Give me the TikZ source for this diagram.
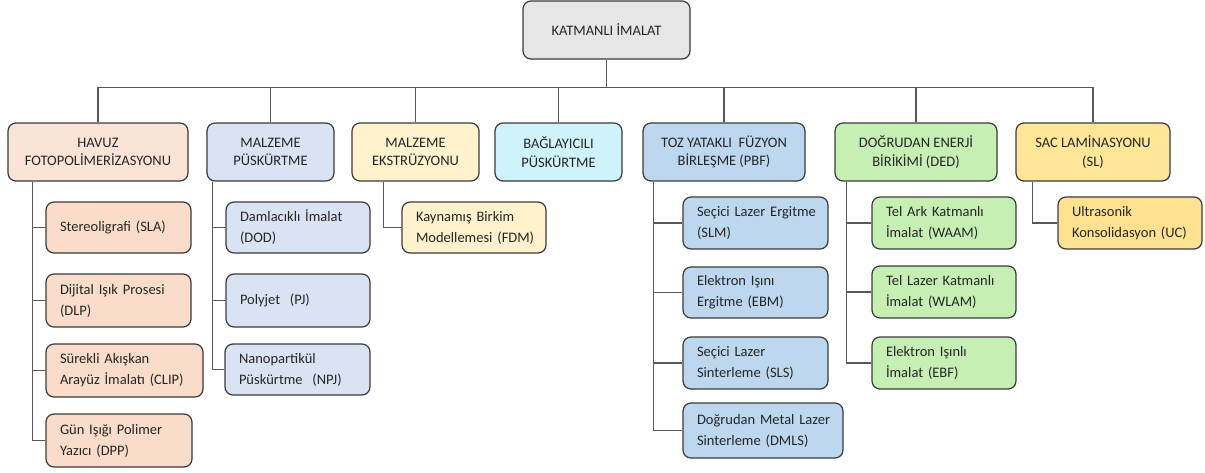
\documentclass[tikz,border=0pt]{standalone}
\usepackage{fontspec}
\setmainfont{Carlito}
\definecolor{boxline}{HTML}{3A3A3A}
\definecolor{connc}{HTML}{595959}
\definecolor{txt}{HTML}{262626}
\definecolor{rootf}{HTML}{E7E6E6}
\definecolor{havf}{HTML}{FBE4D5}
\definecolor{havc}{HTML}{F9DDCA}
\definecolor{mpf}{HTML}{DAE3F3}
\definecolor{eksf}{HTML}{FFF2CC}
\definecolor{bagf}{HTML}{CFF3FB}
\definecolor{tozf}{HTML}{BDD7EE}
\definecolor{dedf}{HTML}{C6EFB3}
\definecolor{sacf}{HTML}{FFE699}
\definecolor{ucf}{HTML}{FFE18F}
\tikzset{
  box/.style={draw=boxline, line width=1.2pt, rounded corners=8pt, text=txt},
  lvl/.style={box, align=center, inner sep=0pt, font=\fontsize{14.5}{18.5}\selectfont},
  kid/.style={box, align=left, inner xsep=0pt, inner ysep=0pt,
    execute at begin node={\leftskip=14pt\hyphenpenalty=10000\relax},
    font=\fontsize{14.5}{21}\selectfont},
  conn/.style={draw=connc, line width=1.2pt}
}
\begin{document}
\begin{tikzpicture}[x=1pt,y=-1pt]
\useasboundingbox (0,0) rectangle (1205,472);
% root
\node[lvl, fill=rootf, minimum width=167pt, minimum height=58pt] (root) at (606.5,30) {KATMANLI İMALAT};
% level 1
\node[lvl, fill=havf, minimum width=180pt, minimum height=58pt] (hav) at (98,152) {HAVUZ\\FOTOPOLİMERİZASYONU};
\node[lvl, fill=mpf, minimum width=127pt, minimum height=58pt] (mp) at (270.5,152) {MALZEME\\PÜSKÜRTME};
\node[lvl, fill=eksf, minimum width=127pt, minimum height=58pt] (eks) at (415.5,152) {MALZEME\\EKSTRÜZYONU};
\node[lvl, fill=bagf, minimum width=127pt, minimum height=58pt] (bag) at (558.5,152) {BAĞLAYICILI\\PÜSKÜRTME};
\node[lvl, fill=tozf, minimum width=162pt, minimum height=58pt] (toz) at (724,152) {TOZ YATAKLI~ FÜZYON\\BİRLEŞME (PBF)};
\node[lvl, fill=dedf, minimum width=162pt, minimum height=58pt] (ded) at (916,152) {DOĞRUDAN ENERJİ\\BİRİKİMİ (DED)};
\node[lvl, fill=sacf, minimum width=154pt, minimum height=58pt] (sac) at (1093,152) {SAC LAMİNASYONU\\(SL)};
% children of HAVUZ
\node[kid, fill=havc, text width=145pt, minimum height=51pt] (sla) at (118.5,227.5) {Stereoligrafi (SLA)};
\node[kid, fill=havc, text width=145pt, minimum height=53pt] (dlp) at (118.5,300.5) {Dijital Işık Prosesi\\(DLP)};
\node[kid, fill=havc, text width=157pt, minimum height=53pt] (clip) at (124.5,370.5) {Sürekli Akışkan\\Arayüz İmalatı (CLIP)};
\node[kid, fill=havc, text width=146pt, minimum height=53pt] (dpp) at (119,440.5) {Gün Işığı Polimer\\Yazıcı (DPP)};
% children of MALZEME PUSKURTME
\node[kid, fill=mpf, text width=144pt, minimum height=51pt] (dod) at (298,227.5) {Damlacıklı İmalat\\(DOD)};
\node[kid, fill=mpf, text width=144pt, minimum height=53pt] (pj) at (298,300.5) {Polyjet\ \ (PJ)};
\node[kid, fill=mpf, text width=145pt, minimum height=51pt] (npj) at (297.5,369.5) {Nanopartikül\\Püskürtme\ \ (NPJ)};
% child of EKSTRUZYON
\node[kid, fill=eksf, text width=144pt, minimum height=51pt] (fdm) at (474,227.5) {Kaynamış Birkim\\Modellemesi (FDM)};
% children of TOZ
\node[kid, fill=tozf, text width=145pt, minimum height=52pt] (slm) at (755.5,223) {Seçici Lazer Ergitme\\(SLM)};
\node[kid, fill=tozf, text width=145pt, minimum height=51pt] (ebm) at (755.5,292.5) {Elektron Işını\\Ergitme (EBM)};
\node[kid, fill=tozf, text width=145pt, minimum height=52pt] (sls) at (755.5,363) {Seçici Lazer\\Sinterleme (SLS)};
\node[kid, fill=tozf, text width=160pt, minimum height=55pt] (dmls) at (763,430.5) {Doğrudan Metal Lazer\\Sinterleme (DMLS)};
% children of DED
\node[kid, fill=dedf, text width=144pt, minimum height=52pt] (waam) at (944,223) {Tel Ark Katmanlı\\İmalat (WAAM)};
\node[kid, fill=dedf, text width=144pt, minimum height=52pt] (wlam) at (944,292) {Tel Lazer Katmanlı\\İmalat (WLAM)};
\node[kid, fill=dedf, text width=144pt, minimum height=52pt] (ebf) at (944,363) {Elektron Işınlı\\İmalat (EBF)};
% child of SAC
\node[kid, fill=ucf, text width=144pt, minimum height=52pt] (uc) at (1130,223) {Ultrasonik\\Konsolidasyon (UC)};
% top connectors
\draw[conn] (root.south) -- ++(0,28) coordinate (bus);
\foreach \n in {hav,mp,eks,bag,toz,ded,sac} \draw[conn] (bus) -| (\n.north);
% spines
\coordinate (hs) at ([xshift=25pt]hav.south west);
\coordinate (ms) at ([xshift=6pt]mp.south west);
\coordinate (es) at ([xshift=32pt]eks.south west);
\coordinate (ts) at ([xshift=11pt]toz.south west);
\coordinate (ds) at ([xshift=12pt]ded.south west);
\coordinate (ss) at ([xshift=17pt]sac.south west);
\draw[conn] (hs) |- (dpp.west);
\foreach \n in {sla,dlp,clip} \draw[conn] (hs |- \n.west) -- (\n.west);
\draw[conn] (ms) |- (npj.west);
\foreach \n in {dod,pj} \draw[conn] (ms |- \n.west) -- (\n.west);
\draw[conn] (es) |- (fdm.west);
\draw[conn] (ts) |- (dmls.west);
\foreach \n in {slm,ebm,sls} \draw[conn] (ts |- \n.west) -- (\n.west);
\draw[conn] (ds) |- (ebf.west);
\foreach \n in {waam,wlam} \draw[conn] (ds |- \n.west) -- (\n.west);
\draw[conn] (ss) |- (uc.west);
\end{tikzpicture}
\end{document}
